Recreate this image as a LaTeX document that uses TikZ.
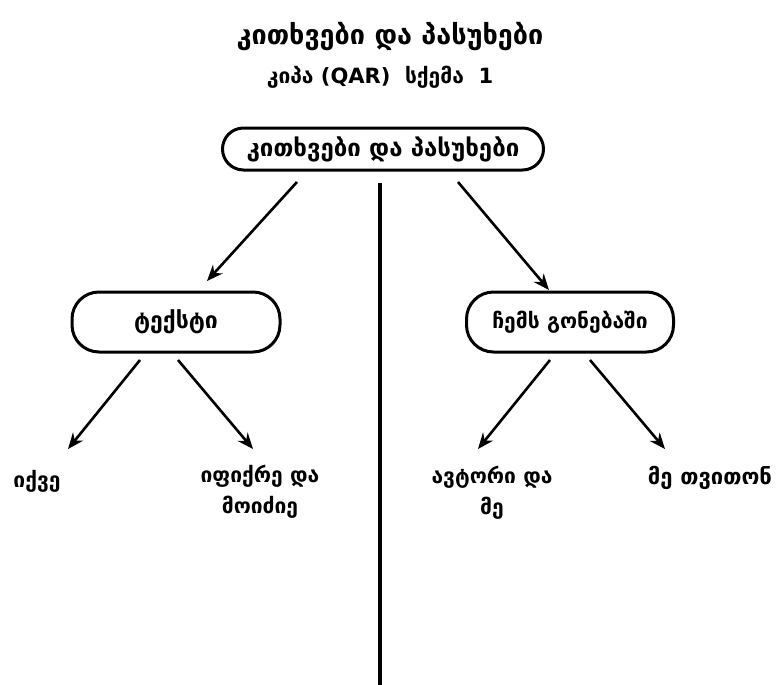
\documentclass[tikz,border=0pt]{standalone}
\usepackage{fontspec}
\setmainfont{DejaVu Sans}
\usetikzlibrary{arrows.meta}
\begin{document}
\begin{tikzpicture}[x=1pt,y=-1pt,
  box/.style={draw,line width=3pt,rounded corners=21pt,inner sep=0pt},
  arr/.style={line width=2.6pt,-{Stealth[length=16pt,width=13pt]}},
  lbl/.style={font=\bfseries\fontsize{21}{31}\selectfont,align=center,inner sep=0pt}]
\useasboundingbox (0,0) rectangle (782,685);
\node[font=\bfseries\fontsize{27}{30}\selectfont] (title) at (390,37) {კითხვები და პასუხები};
\node[font=\bfseries\fontsize{21}{25}\selectfont] (sub) at (380,77) {კიპა (QAR)\ \ სქემა\ \ 1};
\node[box,minimum width=321pt,minimum height=42pt,font=\bfseries\fontsize{24}{28}\selectfont] (root) at (383,149) {კითხვები და პასუხები};
\node[box,minimum width=208pt,minimum height=60pt,rounded corners=27pt,font=\bfseries\fontsize{23}{28}\selectfont] (text) at (176,322) {ტექსტი};
\node[box,minimum width=207pt,minimum height=60pt,rounded corners=27pt,font=\bfseries\fontsize{21}{28}\selectfont] (mind) at (570,322) {ჩემს გონებაში};
\coordinate (vt) at (380,183);
\coordinate (vb) at (380,685);
\draw[line width=3.5pt] (vt) -- (vb);
\coordinate (a1) at (297,182); \coordinate (a1e) at (207,281);
\coordinate (a2) at (458,182); \coordinate (a2e) at (549,290);
\draw[arr] (a1) -- (a1e);
\draw[arr] (a2) -- (a2e);
\node[lbl] (l1) at (37,481) {იქვე};
\node[lbl] (l2) at (260,492) {იფიქრე და\\მოიძიე};
\node[lbl] (l3) at (492,493) {ავტორი და\\მე};
\node[lbl,font=\bfseries\fontsize{22}{31}\selectfont] (l4) at (710,478) {მე თვითონ};
\coordinate (b1) at (140,360); \coordinate (b1e) at (68,449);
\coordinate (b2) at (178,360); \coordinate (b2e) at (253,449);
\coordinate (b3) at (550,360); \coordinate (b3e) at (478,449);
\coordinate (b4) at (590,360); \coordinate (b4e) at (665,449);
\draw[arr] (b1) -- (b1e);
\draw[arr] (b2) -- (b2e);
\draw[arr] (b3) -- (b3e);
\draw[arr] (b4) -- (b4e);
\end{tikzpicture}
\end{document}
